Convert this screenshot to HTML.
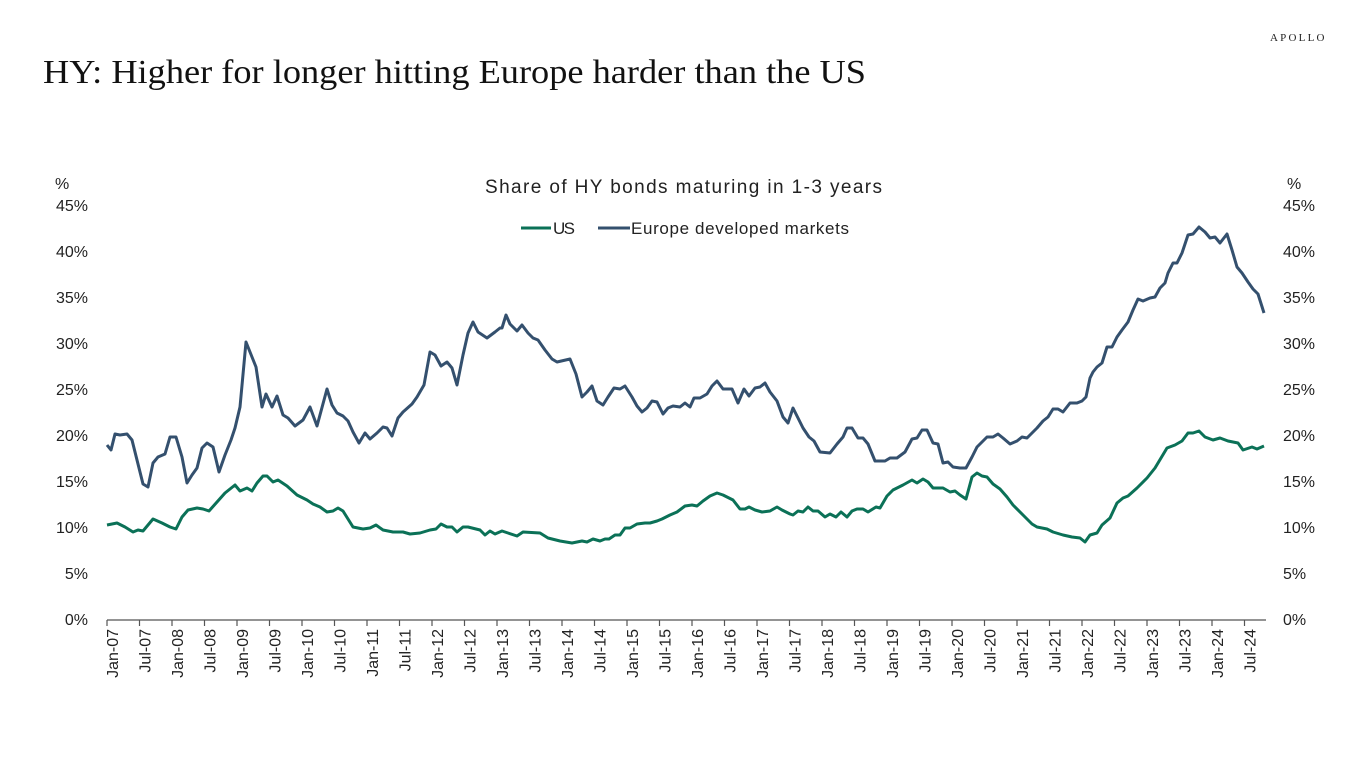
<!DOCTYPE html>
<html><head><meta charset="utf-8"><style>
html,body{margin:0;padding:0;background:#fff;width:1366px;height:768px;overflow:hidden}
svg{display:block}
text{font-family:"Liberation Sans",sans-serif;fill:#222}
.t{font-size:16px}
</style></head><body>
<svg width="1366" height="768" viewBox="0 0 1366 768">
<text x="1270" y="41" style="font-family:'Liberation Serif',serif;font-size:11px;letter-spacing:1.5px" textLength="56">APOLLO</text>
<text x="43" y="83" style="font-family:'Liberation Serif',serif;font-size:34px;fill:#111" textLength="823" lengthAdjust="spacingAndGlyphs">HY: Higher for longer hitting Europe harder than the US</text>
<text x="485" y="193" style="font-size:19px" textLength="397">Share of HY bonds maturing in 1-3 years</text>
<line x1="521" y1="228" x2="551" y2="228" stroke="#0b7157" stroke-width="3"/>
<text x="553" y="234" style="font-size:17px" textLength="22">US</text>
<line x1="598" y1="228" x2="630" y2="228" stroke="#34506e" stroke-width="3"/>
<text x="631" y="234" style="font-size:17px" textLength="218">Europe developed markets</text>
<text x="55" y="189" class="t">%</text>
<text x="1287" y="189" class="t">%</text>
<g class="t" text-anchor="end">
<text x="88" y="211" class="t">45%</text><text x="88" y="257" class="t">40%</text><text x="88" y="303" class="t">35%</text><text x="88" y="349" class="t">30%</text><text x="88" y="395" class="t">25%</text><text x="88" y="441" class="t">20%</text><text x="88" y="487" class="t">15%</text><text x="88" y="533" class="t">10%</text><text x="88" y="579" class="t">5%</text><text x="88" y="625" class="t">0%</text>
</g>
<g>
<text x="1283" y="211" class="t">45%</text><text x="1283" y="257" class="t">40%</text><text x="1283" y="303" class="t">35%</text><text x="1283" y="349" class="t">30%</text><text x="1283" y="395" class="t">25%</text><text x="1283" y="441" class="t">20%</text><text x="1283" y="487" class="t">15%</text><text x="1283" y="533" class="t">10%</text><text x="1283" y="579" class="t">5%</text><text x="1283" y="625" class="t">0%</text>
</g>
<line x1="107" y1="620" x2="1266" y2="620" stroke="#555" stroke-width="1.2"/>
<g id="ticks" stroke="#555" stroke-width="1.2"></g>
<g id="xl"></g>
<polyline fill="none" stroke="#34506e" stroke-width="3" stroke-linejoin="round" points="107,445 111,450 115,434 120,435 127,434 132,440 137,460 143,484 148,487 153,463 158,457 165,454 170,437 176,437 182,457 187,483 192,475 197,468 202,448 207,443 213,447 219,472 225,455 231,440 235,428 240,407 246,342 250,352 256,367 262,407 266,394 272,407 277,396 283,415 288,418 295,426 303,420 310,407 317,426 327,389 332,405 337,413 343,416 348,421 353,432 359,443 365,433 370,439 377,433 383,427 387,428 392,436 398,418 403,412 412,404 417,397 424,385 430,352 435,355 441,366 447,362 452,368 457,385 463,355 468,333 473,322 478,332 487,338 495,332 500,328 502,328 506,315 510,324 517,331 522,325 528,333 533,338 538,340 545,350 552,359 557,362 570,359 576,374 582,397 587,392 592,386 597,401 603,405 608,397 614,388 620,389 625,386 632,397 637,406 642,412 647,408 652,401 657,402 663,414 668,408 673,406 680,407 685,403 690,407 694,398 700,398 707,394 712,386 717,381 723,389 732,389 738,403 744,389 749,396 755,388 760,387 765,383 770,392 777,401 783,417 788,423 793,408 798,418 803,428 809,437 814,441 820,452 830,453 837,444 843,437 847,428 852,428 858,438 863,438 868,444 875,461 885,461 890,458 897,458 905,452 912,439 917,438 922,430 927,430 933,443 938,444 943,463 948,462 953,467 960,468 966,468 972,457 977,447 987,437 993,437 998,434 1003,438 1010,444 1017,441 1022,437 1027,438 1032,433 1037,428 1043,421 1048,417 1053,409 1058,409 1063,412 1070,403 1077,403 1082,401 1086,397 1090,378 1093,372 1097,367 1102,363 1107,347 1112,347 1117,337 1122,330 1128,322 1133,310 1138,299 1143,301 1150,298 1155,297 1160,288 1165,283 1168,273 1173,263 1177,263 1182,253 1188,235 1193,234 1199,227 1205,232 1210,238 1215,237 1220,243 1227,234 1232,250 1237,267 1242,273 1248,282 1253,289 1258,294 1264,313"/>
<polyline fill="none" stroke="#0b7157" stroke-width="3" stroke-linejoin="round" points="107,525 117,523 125,527 133,532 138,530 143,531 153,519 162,523 170,527 176,529 182,517 188,510 197,508 203,509 209,511 217,502 225,493 235,485 240,491 247,488 252,491 257,483 263,476 267,476 273,482 278,480 287,486 297,495 307,500 313,504 320,507 327,512 333,511 338,508 343,511 353,527 363,529 370,528 376,525 383,530 393,532 403,532 410,534 420,533 430,530 436,529 441,524 447,527 452,527 457,532 463,527 468,527 480,530 485,535 490,531 495,534 502,531 508,533 517,536 523,532 540,533 548,538 560,541 572,543 582,541 587,542 593,539 600,541 605,539 609,539 615,535 620,535 625,528 630,528 637,524 645,523 650,523 657,521 662,519 670,515 677,512 685,506 692,505 697,506 703,501 710,496 717,493 723,495 733,500 740,509 745,509 749,507 755,510 762,512 770,511 777,507 782,510 790,514 793,515 798,511 803,512 808,507 813,511 818,511 825,517 830,514 836,517 841,512 847,517 852,511 857,509 863,509 868,512 876,507 880,508 887,496 893,490 903,485 912,480 917,483 923,479 928,482 933,488 943,488 950,492 955,491 960,495 966,499 972,477 977,473 982,476 987,477 993,484 1000,489 1007,497 1013,505 1023,515 1032,524 1037,527 1047,529 1053,532 1063,535 1072,537 1080,538 1085,542 1090,535 1097,533 1102,525 1110,518 1117,503 1123,498 1128,496 1137,488 1147,478 1155,468 1167,448 1175,445 1182,441 1188,433 1193,433 1199,431 1205,437 1213,440 1220,438 1228,441 1238,443 1243,450 1252,447 1257,449 1264,446"/>
</svg>
<script>
(function(){
var ns="http://www.w3.org/2000/svg",t=document.getElementById("ticks"),xl=document.getElementById("xl");
for(var k=0;k<36;k++){
 var x=107+k*32.5;
 var l=document.createElementNS(ns,"line");
 l.setAttribute("x1",x);l.setAttribute("x2",x);l.setAttribute("y1",620);l.setAttribute("y2",626);t.appendChild(l);
 var yr=7+Math.floor(k/2),lab=(k%2?"Jul-":"Jan-")+(yr<10?"0":"")+yr;
 var tx=document.createElementNS(ns,"text");
 tx.setAttribute("class","t");tx.setAttribute("text-anchor","end");
 tx.setAttribute("transform","translate("+(x+11)+",629) rotate(-90)");
 tx.textContent=lab;xl.appendChild(tx);
}
})();
</script>
</body></html>
